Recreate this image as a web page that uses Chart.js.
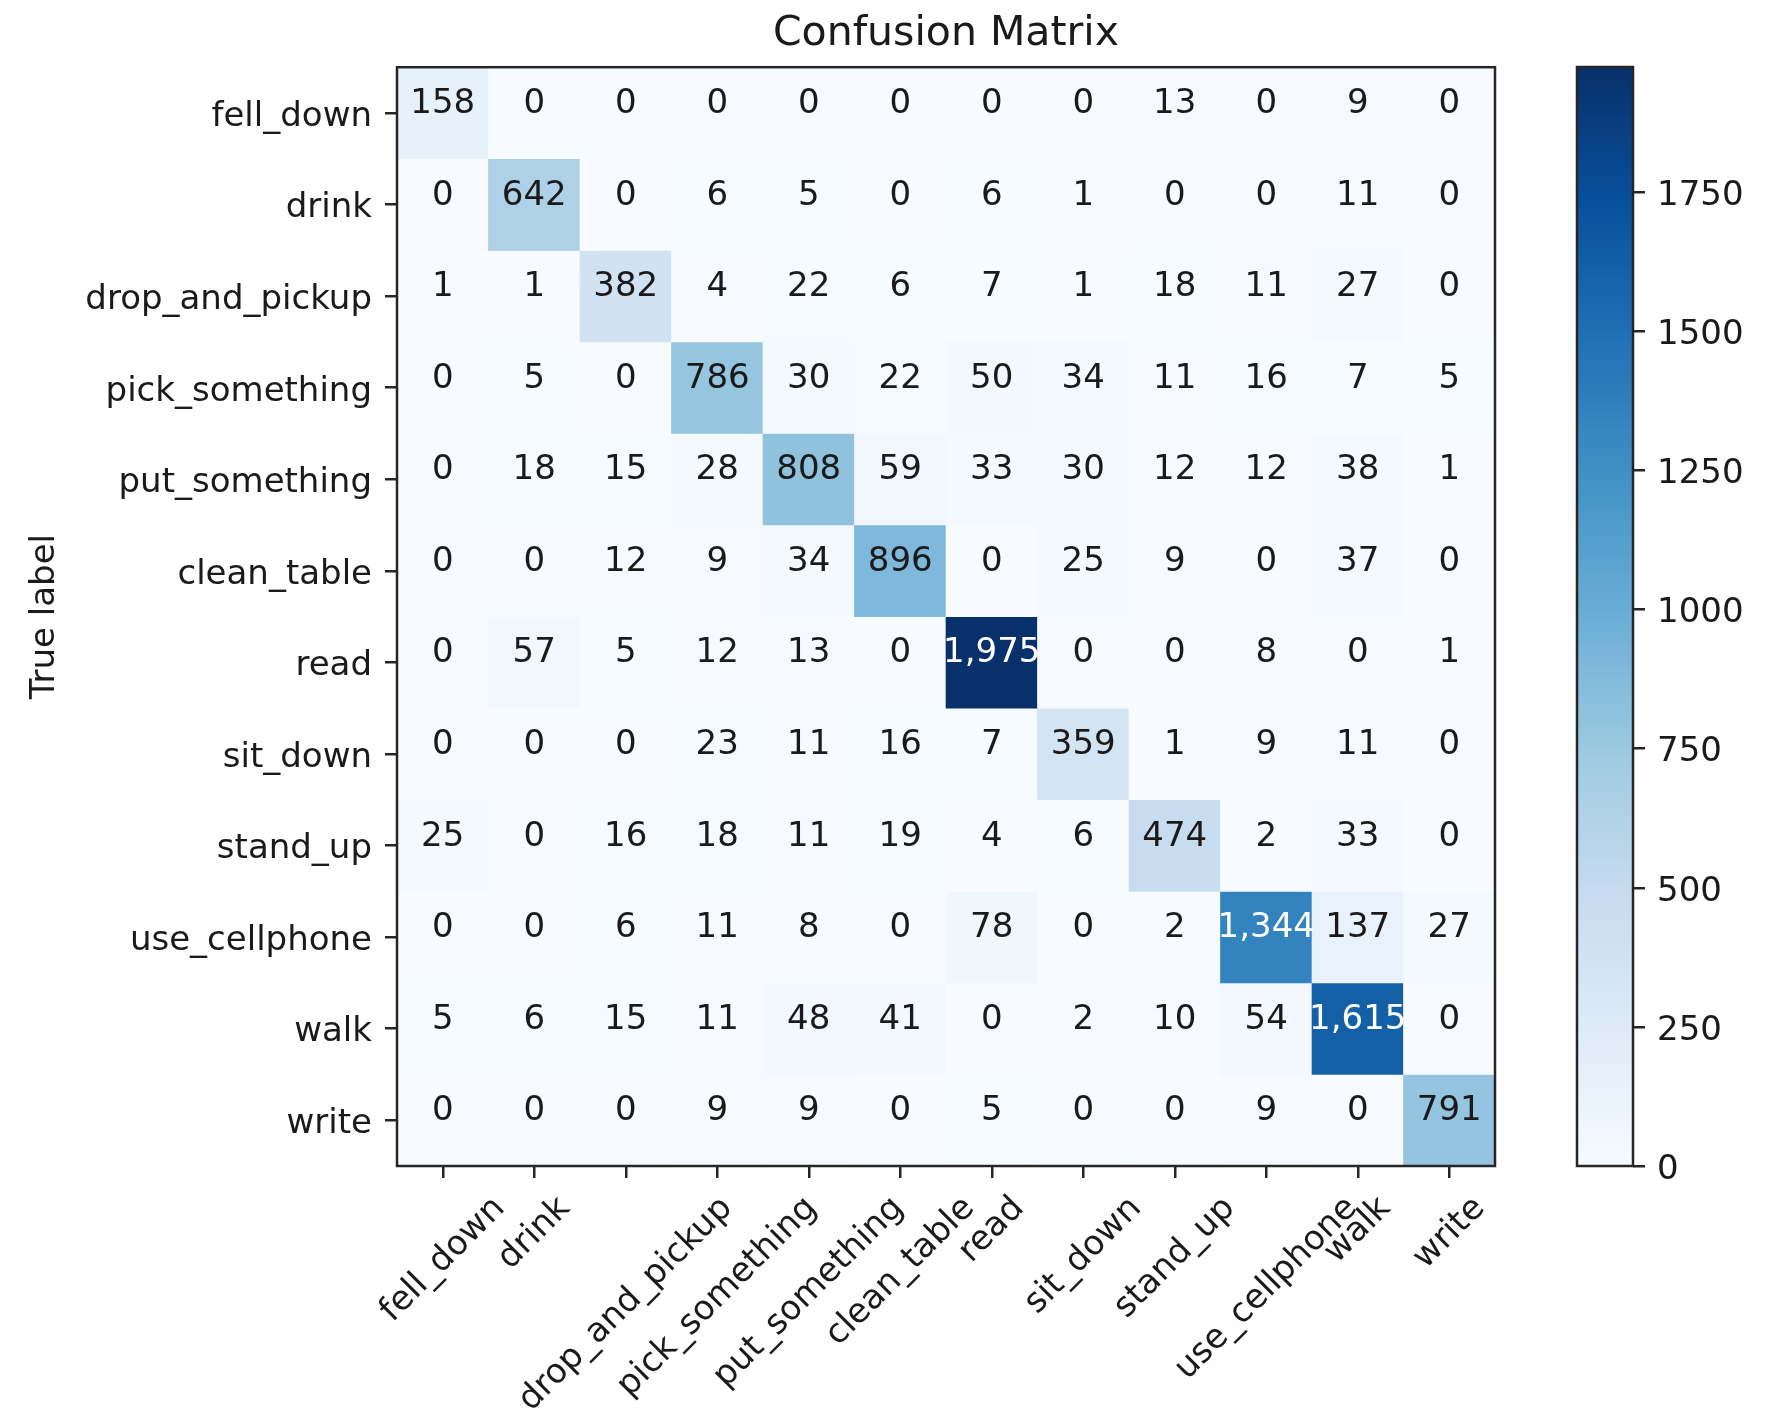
<!DOCTYPE html>
<html>
<head>
<meta charset="utf-8">
<title>Confusion Matrix</title>
<script src="https://cdn.jsdelivr.net/npm/chart.js@4.4.0/dist/chart.umd.min.js"></script>
<style>
  html, body { margin: 0; padding: 0; background: #ffffff; }
  #wrap { position: relative; width: 1782px; height: 1420px; }
  #matrix { position: absolute; left: 0; top: 0; }
  #cbar { position: absolute; left: 1540px; top: 0; }
</style>
</head>
<body>
<div id="wrap">
  <canvas id="matrix" width="1782" height="1420"></canvas>
  <canvas id="cbar" width="242" height="1420"></canvas>
</div>
<script>
// Class names (rows = true label, columns = predicted label)
const classLabels = ['fell_down', 'drink', 'drop_and_pickup', 'pick_something', 'put_something',
  'clean_table', 'read', 'sit_down', 'stand_up', 'use_cellphone', 'walk', 'write'];

// Counts per true label, one array per row
const fellDownRow      = [158,   0,   0,   0,   0,   0,    0,   0,  13,    0,    9,   0];
const drinkRow         = [  0, 642,   0,   6,   5,   0,    6,   1,   0,    0,   11,   0];
const dropPickupRow    = [  1,   1, 382,   4,  22,   6,    7,   1,  18,   11,   27,   0];
const pickSomethingRow = [  0,   5,   0, 786,  30,  22,   50,  34,  11,   16,    7,   5];
const putSomethingRow  = [  0,  18,  15,  28, 808,  59,   33,  30,  12,   12,   38,   1];
const cleanTableRow    = [  0,   0,  12,   9,  34, 896,    0,  25,   9,    0,   37,   0];
const readRow          = [  0,  57,   5,  12,  13,   0, 1975,   0,   0,    8,    0,   1];
const sitDownRow       = [  0,   0,   0,  23,  11,  16,    7, 359,   1,    9,   11,   0];
const standUpRow       = [ 25,   0,  16,  18,  11,  19,    4,   6, 474,    2,   33,   0];
const useCellphoneRow  = [  0,   0,   6,  11,   8,   0,   78,   0,   2, 1344,  137,  27];
const walkRow          = [  5,   6,  15,  11,  48,  41,    0,   2,  10,   54, 1615,   0];
const writeRow         = [  0,   0,   0,   9,   9,   0,    5,   0,   0,    9,    0, 791];

const confusion = [fellDownRow, drinkRow, dropPickupRow, pickSomethingRow, putSomethingRow,
  cleanTableRow, readRow, sitDownRow, standUpRow, useCellphoneRow, walkRow, writeRow];

// Colour bar tick values
const colorbarTicks = [0, 250, 500, 750, 1000, 1250, 1500, 1750];

const vmax = Math.max(...confusion.flat());

// Sequential "Blues" colour map
const bluesStops = ['#f7fbff', '#deebf7', '#c6dbef', '#9ecae1', '#6baed6',
  '#4292c6', '#2171b5', '#08519c', '#08306b'];
function hexToRgb(h) {
  return [parseInt(h.slice(1, 3), 16), parseInt(h.slice(3, 5), 16), parseInt(h.slice(5, 7), 16)];
}
const bluesRgb = bluesStops.map(hexToRgb);
function blues(t) {
  t = Math.min(1, Math.max(0, t));
  const s = t * (bluesRgb.length - 1);
  const i = Math.min(bluesRgb.length - 2, Math.floor(s));
  const f = s - i;
  const a = bluesRgb[i], b = bluesRgb[i + 1];
  const c = a.map((v, k) => Math.round(v + (b[k] - v) * f));
  return `rgb(${c[0]},${c[1]},${c[2]})`;
}

const FONT = '"DejaVu Sans", "Liberation Sans", sans-serif';
const INK = '#1a1a1a';
const SPINE = '#262626';
const SPINE_W = 2.5;
const TICK_LEN = 12;
const TEXT_SIZE = 34;

Chart.defaults.font.family = FONT;
Chart.defaults.color = INK;

function withCommas(v) {
  return String(v).replace(/\B(?=(\d{3})+(?!\d))/g, ',');
}

// Outline around the plotting area
const framePlugin = {
  id: 'frame',
  afterDraw(chart) {
    const { ctx, chartArea: a } = chart;
    ctx.save();
    ctx.strokeStyle = SPINE;
    ctx.lineWidth = SPINE_W;
    ctx.strokeRect(a.left, a.top, a.right - a.left, a.bottom - a.top);
    ctx.restore();
  }
};

// Count written in each cell
const cellTextPlugin = {
  id: 'cellText',
  afterDatasetsDraw(chart) {
    const { ctx } = chart;
    ctx.save();
    ctx.font = `${TEXT_SIZE}px ${FONT}`;
    ctx.textAlign = 'center';
    ctx.textBaseline = 'alphabetic';
    confusion.forEach((row, r) => {
      const meta = chart.getDatasetMeta(r);
      row.forEach((v, c) => {
        const p = meta.data[c].getCenterPoint();
        ctx.fillStyle = v > vmax / 2 ? '#ffffff' : INK;
        ctx.fillText(withCommas(v), p.x, p.y);
      });
    });
    ctx.restore();
  }
};

// Predicted-class labels, rotated 45 degrees and centred under their ticks
const xLabelPlugin = {
  id: 'xLabels',
  afterDraw(chart) {
    const { ctx } = chart;
    const xs = chart.scales.x;
    const em = TEXT_SIZE;
    const h = 0.98 * em;
    const top = chart.chartArea.bottom + TICK_LEN + 13;
    ctx.save();
    ctx.font = `${em}px ${FONT}`;
    ctx.fillStyle = INK;
    ctx.textAlign = 'center';
    ctx.textBaseline = 'alphabetic';
    classLabels.forEach((lab, i) => {
      const x = xs.getPixelForValue(i);
      const w = ctx.measureText(lab).width;
      const span = (w + h) * Math.SQRT1_2;
      ctx.save();
      ctx.translate(x, top + span / 2);
      ctx.rotate(-Math.PI / 4);
      ctx.fillText(lab, 0, 0.27 * em);
      ctx.restore();
    });
    ctx.restore();
  }
};

const datasets = confusion.map((row, r) => ({
  label: classLabels[r],
  data: row.map((v, c) => ({ x: classLabels[c], y: [r - 0.5, r + 0.5] })),
  backgroundColor: row.map(v => blues(v / vmax)),
  borderWidth: 0,
  grouped: false,
  categoryPercentage: 1,
  barPercentage: 1
}));

new Chart(document.getElementById('matrix'), {
  type: 'bar',
  data: { labels: classLabels, datasets },
  options: {
    responsive: false,
    animation: false,
    events: [],
    layout: { padding: { left: 0, right: 287, top: 0, bottom: 0 } },
    plugins: {
      legend: { display: false },
      tooltip: { enabled: false },
      title: {
        display: true,
        text: 'Confusion Matrix',
        fullSize: false,
        color: INK,
        font: { size: 41, weight: 'normal' },
        padding: { top: 10, bottom: 8 }
      }
    },
    scales: {
      x: {
        type: 'category',
        offset: true,
        grid: { display: true, drawOnChartArea: false, drawTicks: true, tickLength: TICK_LEN,
                offset: false, color: SPINE, lineWidth: SPINE_W },
        border: { display: false },
        ticks: { display: false },
        afterFit: s => { s.height = 254; }
      },
      y: {
        type: 'linear',
        min: -0.5,
        max: 11.5,
        reverse: true,
        afterBuildTicks: s => { s.ticks = classLabels.map((_, i) => ({ value: i })); },
        ticks: {
          autoSkip: false,
          padding: 13,
          labelOffset: 4,
          color: INK,
          font: { size: TEXT_SIZE },
          callback: v => classLabels[v]
        },
        grid: { drawOnChartArea: false, tickLength: TICK_LEN, color: SPINE, lineWidth: SPINE_W },
        border: { display: false },
        title: {
          display: true,
          text: 'True label',
          color: INK,
          font: { size: TEXT_SIZE },
          padding: { top: 25, bottom: 0 }
        },
        afterFit: s => { s.width = 397; }
      }
    }
  },
  plugins: [cellTextPlugin, framePlugin, xLabelPlugin]
});

// Colour bar
new Chart(document.getElementById('cbar'), {
  type: 'bar',
  data: {
    labels: [''],
    datasets: [{
      data: [[0, vmax]],
      backgroundColor: ctx => {
        const a = ctx.chart.chartArea;
        if (!a) return bluesStops[0];
        const g = ctx.chart.ctx.createLinearGradient(0, a.bottom, 0, a.top);
        bluesStops.forEach((c, i) => g.addColorStop(i / (bluesStops.length - 1), c));
        return g;
      },
      borderWidth: 0,
      categoryPercentage: 1,
      barPercentage: 1
    }]
  },
  options: {
    responsive: false,
    animation: false,
    events: [],
    layout: { padding: { left: 37, right: 0, top: 67, bottom: 254 } },
    plugins: { legend: { display: false }, tooltip: { enabled: false } },
    scales: {
      x: { display: false },
      y: {
        position: 'right',
        min: 0,
        max: vmax,
        afterBuildTicks: s => { s.ticks = colorbarTicks.map(v => ({ value: v })); },
        ticks: { padding: 12, labelOffset: 4, color: INK, font: { size: TEXT_SIZE }, callback: v => String(v) },
        grid: { drawOnChartArea: false, tickLength: TICK_LEN, color: SPINE, lineWidth: SPINE_W },
        border: { display: false },
        afterFit: s => { s.width = 149; }
      }
    }
  },
  plugins: [framePlugin]
});
</script>
</body>
</html>
